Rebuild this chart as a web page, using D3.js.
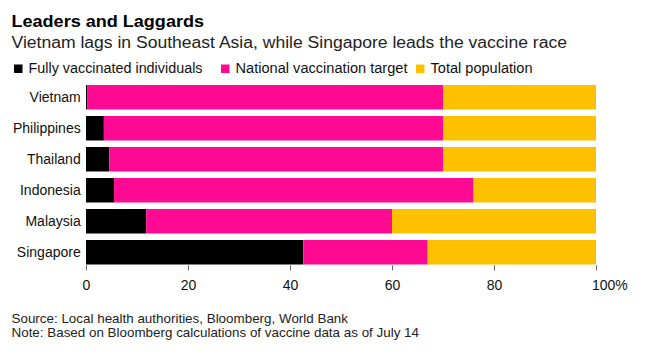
<!DOCTYPE html>
<html><head><meta charset="utf-8">
<script src="https://cdn.jsdelivr.net/npm/d3@7"></script>
<style>
body{margin:0;background:#fff;}
text{font-family:"Liberation Sans",Arial,sans-serif;}
</style></head>
<body><svg id="c" width="649" height="356"></svg>
<script>
const countries = ["Vietnam","Philippines","Thailand","Indonesia","Malaysia","Singapore"];
const vaccinated = [0.3, 3.5, 4.6, 5.5, 11.8, 42.6];
const target = [70, 70, 70, 76, 60, 67];
const population = [100, 100, 100, 100, 100, 100];
const seriesNames = ["Fully vaccinated individuals","National vaccination target","Total population"];
const tickValues = [0,20,40,60,80,100];
const tickLabels = ["0","20","40","60","80","100%"];
const colors = ["#000000","#ff0a93","#fdc100"];

const svg = d3.select("#c");
const x = d3.scaleLinear().domain([0,100]).range([86,596]);
const y = d3.scaleBand().domain(countries).range([85,264.5]).paddingInner(0.21).paddingOuter(0);

function fit(sel, w){ sel.attr("textLength", w).attr("lengthAdjust","spacingAndGlyphs"); return sel; }

// title
fit(svg.append("text").attr("x",11.5).attr("y",27.3).attr("font-size",17).attr("font-weight","bold").attr("fill","#000").text("Leaders and Laggards"),192.5);
fit(svg.append("text").attr("x",11.5).attr("y",48.3).attr("font-size",16).attr("fill","#222").text("Vietnam lags in Southeast Asia, while Singapore leads the vaccine race"),555.5);

// legend
const legX = [14,221,416];
const legW = [174,172,102];
seriesNames.forEach((n,i)=>{
  svg.append("rect").attr("x",legX[i]).attr("y",64.5).attr("width",8.5).attr("height",8.5).attr("fill",colors[i]);
  fit(svg.append("text").attr("x",legX[i]+14.5).attr("y",73.3).attr("font-size",14).attr("fill","#111").text(n), legW[i]);
});

// bars
const rows = countries.map((c,i)=>({c, segs:[[0,vaccinated[i]],[vaccinated[i],target[i]],[target[i],population[i]]]}));
const g = svg.append("g");
rows.forEach(r=>{
  r.segs.forEach((s,j)=>{
    g.append("rect").attr("x",x(s[0])).attr("y",y(r.c)).attr("width",Math.max(0,x(s[1])-x(s[0]))).attr("height",y.bandwidth()).attr("fill",colors[j]);
  });
});

// y labels
svg.append("g").selectAll("text").data(countries).join("text")
  .attr("x",80.7).attr("y",d=>y(d)+y.bandwidth()/2).attr("dy","0.36em")
  .attr("text-anchor","end").attr("font-size",14).attr("fill","#111").text(d=>d);

// x axis
const ax = svg.append("g").attr("transform","translate(0,265.3)")
  .call(d3.axisBottom(x).tickValues(tickValues).tickFormat((d,i)=>tickLabels[i]).tickSize(5).tickPadding(10));
ax.select(".domain").remove();
ax.selectAll(".tick line").attr("stroke","#666");
ax.selectAll(".tick text").attr("font-size",14).attr("fill","#111").attr("font-family","Liberation Sans, Arial, sans-serif");
ax.selectAll(".tick text").filter(d=>d===100).attr("text-anchor","start").attr("x",-4.5);

// footer
fit(svg.append("text").attr("x",11.5).attr("y",323.3).attr("font-size",13.5).attr("fill","#222").text("Source: Local health authorities, Bloomberg, World Bank"),336.5);
fit(svg.append("text").attr("x",11.5).attr("y",337.3).attr("font-size",13.5).attr("fill","#222").text("Note: Based on Bloomberg calculations of vaccine data as of July 14"),407.5);
</script></body></html>
